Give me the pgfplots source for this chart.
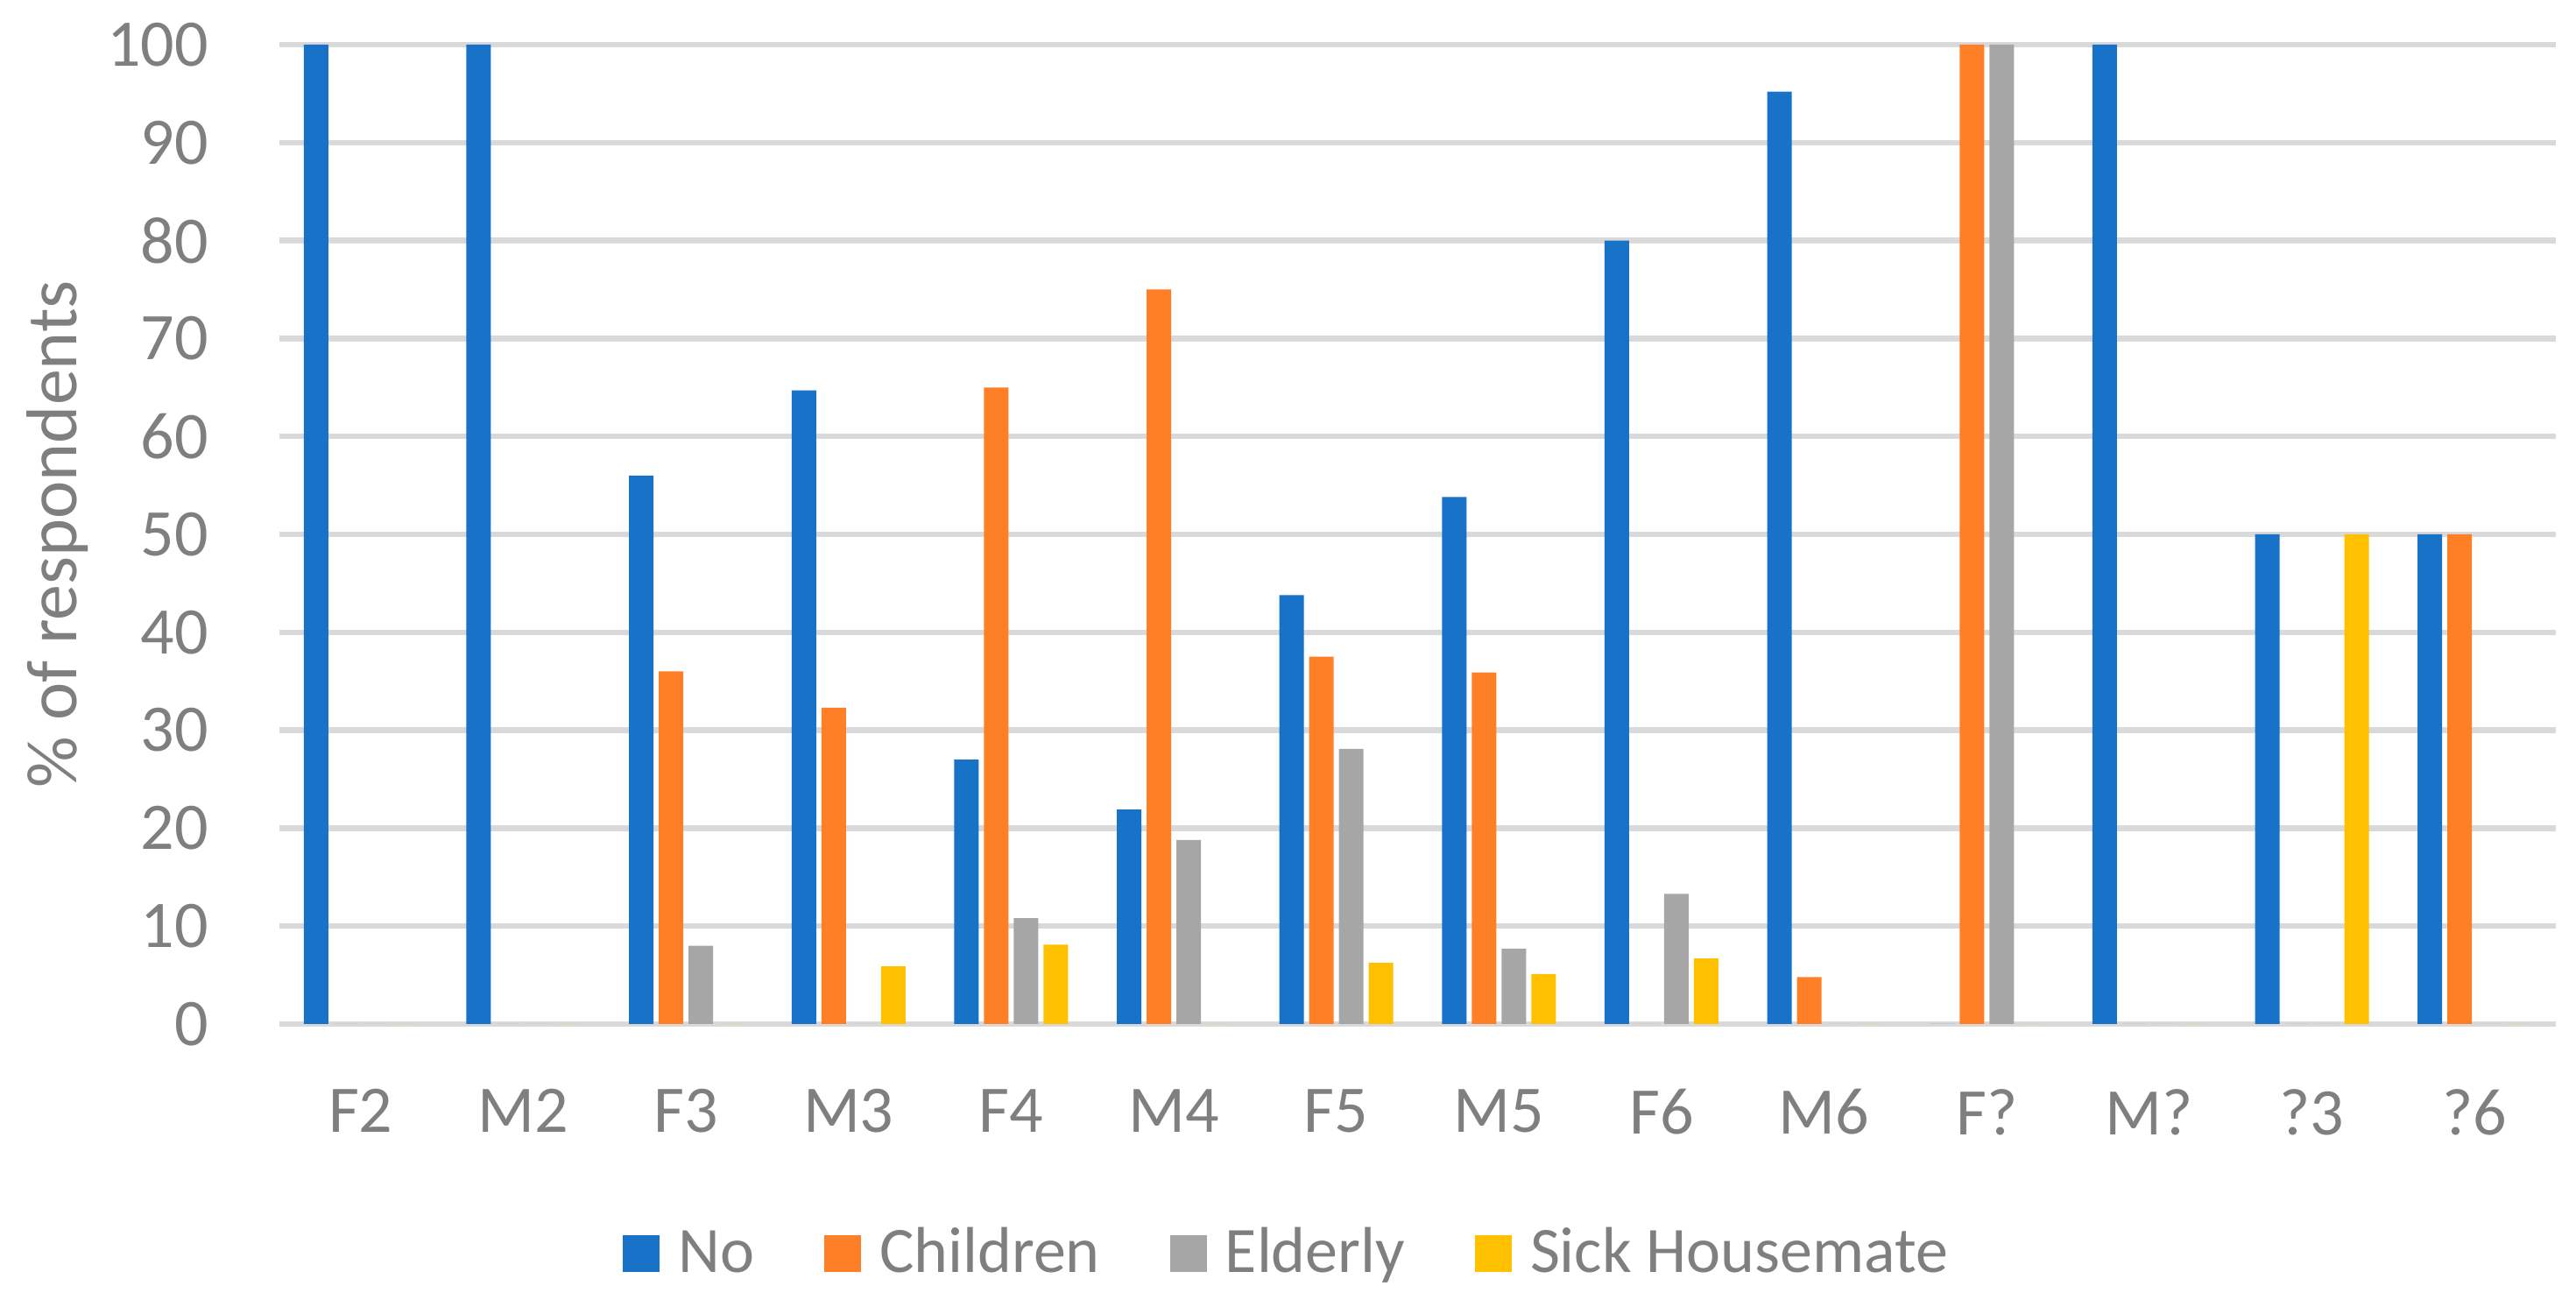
\documentclass[border=0pt]{standalone}
\usepackage{pgfplots}
\usepackage{pgfplotstable}
\usepackage{fontspec}
\setmainfont{Carlito}
\pgfplotsset{compat=1.18}

\definecolor{cNo}{RGB}{24,114,200}
\definecolor{cChildren}{RGB}{255,127,39}
\definecolor{cElderly}{RGB}{166,166,166}
\definecolor{cSick}{RGB}{255,192,0}
\definecolor{cText}{RGB}{127,127,127}
\definecolor{cGrid}{RGB}{217,217,217}

% share of respondents per group (%)
\pgfplotstableread{
x  No    Children Elderly Sick
0  100   0        0       0
1  100   0        0       0
2  56    36       8       0
3  64.7  32.3     0       5.9
4  27    65       10.8    8.1
5  21.9  75       18.8    0
6  43.8  37.5     28.1    6.25
7  53.8  35.9     7.7     5.1
8  80    0        13.3    6.7
9  95.2  4.8      0       0
10 0     100      100     0
11 100   0        0       0
12 50    0        0       50
13 50    50       0       0
}\data

\newcommand{\tickfont}{\fontsize{7.6pt}{9pt}\selectfont}
\newcommand{\labelfont}{\fontsize{8.2pt}{10pt}\selectfont}
\newcommand{\legendfont}{\fontsize{7.4pt}{9pt}\selectfont}

\begin{document}
\begin{tikzpicture}
\path[use as bounding box] (0,0) rectangle (294.1pt,149.2pt);
\begin{axis}[
  at={(31.9pt,32.3pt)}, anchor=south west,
  width=259.9pt, height=111.8pt, scale only axis,
  ybar=0.6pt, bar width=2.8pt,
  xmin=-0.5, xmax=13.5,
  ymin=0, ymax=100,
  xtick=data,
  xticklabels={F2,M2,F3,M3,F4,M4,F5,M5,F6,M6,F?,M?,?3,?6},
  ytick={0,10,...,100},
  major tick length=0pt,
  axis line style={draw=none},
  ymajorgrids,
  grid style={cGrid, line width=0.65pt},
  /pgf/number format/assume math mode=true,
  tick label style={font=\tickfont, text=cText},
  yticklabel style={xshift=-4.6pt},
  xticklabel style={yshift=-3.9pt},
  ylabel={\% of respondents},
  ylabel style={font=\labelfont, text=cText, at={(axis description cs:-0.0973,0.5)}, anchor=center},
  legend columns=-1,
  legend style={draw=none, fill=none, font=\legendfont, text=cText,
    at={(0.442,-0.239)}, anchor=center,
    column sep=2.1pt,
    nodes={inner sep=0pt, text height=5pt, text depth=1.8pt},
    /tikz/every even column/.append style={column sep=8.0pt}},
  legend image code/.code={\fill[#1,draw=none] (0pt,-1.6pt) rectangle (4.2pt,2.6pt);},
]
\addplot[fill=cNo, draw=none] table[x=x, y=No] {\data};
\addlegendentry{No}
\addplot[fill=cChildren, draw=none] table[x=x, y=Children] {\data};
\addlegendentry{Children}
\addplot[fill=cElderly, draw=none] table[x=x, y=Elderly] {\data};
\addlegendentry{Elderly}
\addplot[fill=cSick, draw=none] table[x=x, y=Sick] {\data};
\addlegendentry{Sick Housemate}
\end{axis}
\end{tikzpicture}
\end{document}
